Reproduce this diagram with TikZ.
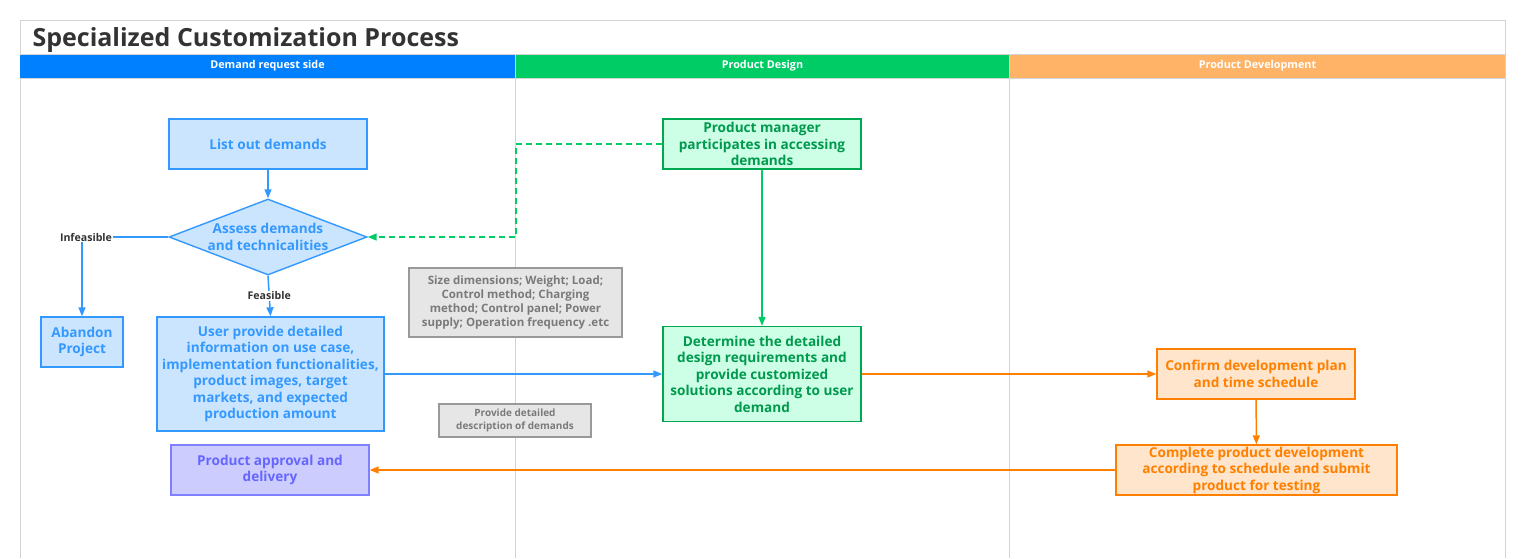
\documentclass[tikz,border=0pt]{standalone}
\usepackage{fontspec}
\setmainfont{Open Sans}
\usetikzlibrary{arrows.meta,shapes.geometric}
\definecolor{headblue}{HTML}{0080FF}
\definecolor{headgreen}{HTML}{00CC66}
\definecolor{headorange}{HTML}{FFB366}
\definecolor{bluefill}{HTML}{CCE5FF}
\definecolor{blueline}{HTML}{3399FF}
\definecolor{greenfill}{HTML}{CCFFE6}
\definecolor{greenline}{HTML}{00A852}
\definecolor{greentext}{HTML}{00994D}
\definecolor{orangefill}{HTML}{FFE5CC}
\definecolor{orangeline}{HTML}{FF8000}
\definecolor{purplefill}{HTML}{CCCCFF}
\definecolor{purpleline}{HTML}{7F7FFF}
\definecolor{purpletext}{HTML}{6666FF}
\definecolor{notefill}{HTML}{E6E6E6}
\definecolor{noteline}{HTML}{999999}
\definecolor{notetext}{HTML}{7A7A7A}
\definecolor{frame}{HTML}{D4D4D4}
\begin{document}
\begin{tikzpicture}[x=1pt,y=-1pt,
    box/.style={draw, line width=1.4pt, align=center, inner sep=0pt,
        font=\bfseries\fontsize{13.6}{16.5}\selectfont},
    bluebox/.style={box, fill=bluefill, draw=blueline, text=blueline},
    greenbox/.style={box, fill=greenfill, draw=greenline, text=greentext},
    orangebox/.style={box, fill=orangefill, draw=orangeline, text=orangeline},
    purplebox/.style={box, fill=purplefill, draw=purpleline, text=purpletext},
    notebox/.style={draw=noteline, fill=notefill, text=notetext, line width=1.2pt,
        align=center, inner sep=0pt, font=\bfseries\fontsize{11.5}{14}\selectfont},
    lanehead/.style={text=white, font=\bfseries\fontsize{10.8}{12}\selectfont},
    flow/.style={line width=1.5pt, -{Triangle[length=9pt,width=7pt]}},
    tag/.style={fill=white, inner sep=1pt, text=black!80, font=\bfseries\fontsize{10.6}{12}\selectfont}]
    \useasboundingbox (0,0) rectangle (1525,558);
    % Frame and title
    \draw[frame, line width=1pt] (20,558) -- (20,20) -- (1505,20) -- (1505,558);
    \node[anchor=base west, text=black!80, font=\bfseries\fontsize{25}{28}\selectfont] (title) at (29,46) {Specialized Customization Process};
    % Lane headers
    \fill[headblue] (20,54) rectangle (515,78);
    \fill[headgreen] (516,54) rectangle (1009,78);
    \fill[headorange] (1010,54) rectangle (1505,78);
    \draw[frame, line width=1pt] (20,54) -- (1505,54) (20,78) -- (1505,78);
    \draw[frame, line width=1pt] (515.5,54) -- (515.5,558) (1009.5,54) -- (1009.5,558);
    \node[lanehead] (hd1) at (267.5,66) {Demand request side};
    \node[lanehead] (hd2) at (762.5,66) {Product Design};
    \node[lanehead] (hd3) at (1257.5,66) {Product Development};
    % Demand request side
    \node[bluebox, minimum width=198pt, minimum height=50pt] (lst) at (268,144) {List out demands};
    \node[draw=blueline, fill=bluefill, line width=1.4pt, diamond, inner sep=0pt,
        minimum width=198pt, minimum height=76pt,
        label={[text=blueline, align=center, font=\bfseries\fontsize{13.6}{16.5}\selectfont]center:Assess demands\\and technicalities}] (dia) at (268,237) {};
    \node[bluebox, minimum width=82pt, minimum height=50pt] (abn) at (82,342) {Abandon\\Project};
    \node[bluebox, minimum width=227pt, minimum height=114pt] (usr) at (270.5,374) {User provide detailed\\information on use case,\\implementation functionalities,\\product images, target\\markets, and expected\\production amount};
    \node[purplebox, minimum width=198pt, minimum height=50pt] (apv) at (270,470) {Product approval and\\delivery};
    % Notes
    \node[notebox, minimum width=213pt, minimum height=69pt] (nt1) at (515.5,302.5) {Size dimensions; Weight; Load;\\Control method; Charging\\method; Control panel; Power\\supply; Operation frequency .etc};
    \node[notebox, minimum width=152pt, minimum height=33pt, font=\bfseries\fontsize{10}{12.5}\selectfont] (nt2) at (515,420.5) {Provide detailed\\description of demands};
    % Product Design
    \node[greenbox, minimum width=198pt, minimum height=50pt] (pm) at (762,144) {Product manager\\participates in accessing\\demands};
    \node[greenbox, minimum width=198pt, minimum height=95pt] (det) at (762,374) {Determine the detailed\\design requirements and\\provide customized\\solutions according to user\\demand};
    % Product Development
    \node[orangebox, minimum width=198pt, minimum height=50pt] (cfm) at (1256,374) {Confirm development plan\\and time schedule};
    \node[orangebox, minimum width=281pt, minimum height=50pt] (cpl) at (1256.5,470) {Complete product development\\according to schedule and submit\\product for testing};
    % Connectors
    \draw[flow, blueline] (lst) -- (dia);
    \draw[flow, blueline] (dia.west) -| node[tag, pos=0.5, xshift=4pt] {Infeasible} (abn.north);
    \draw[flow, blueline] (dia.south) -- node[tag] {Feasible} (usr.north);
    \draw[flow, blueline] (usr.east |- det.west) -- (det.west);
    \coordinate (bend) at (516,144);
    \draw[flow, headgreen, dashed, dash pattern=on 6pt off 4pt] (pm.west) -- (bend) |- (dia.east);
    \draw[flow, headgreen] (pm) -- (det);
    \draw[flow, orangeline] (det.east |- cfm.west) -- (cfm.west);
    \draw[flow, orangeline] (cfm) -- (cpl);
    \draw[flow, orangeline] (cpl.west) -- (apv.east |- cpl.west);
\end{tikzpicture}
\end{document}
